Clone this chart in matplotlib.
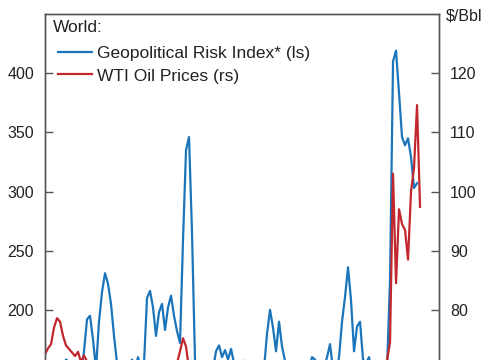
import matplotlib.pyplot as plt
import pandas as pd

plt.rcParams['font.family'] = ['Liberation Sans', 'DejaVu Sans']

# weekly readings, geopolitical risk index (left scale)
gpr = [140, 135, 130, 140, 145, 150, 152, 158, 156, 150,
       145, 140, 145, 165, 192, 195, 175, 150, 190, 215,
       231, 222, 205, 178, 155, 148, 155, 145, 150, 158,
       150, 160, 150, 155, 210, 216, 202, 178, 198, 205,
       183, 202, 212, 195, 182, 172, 259, 335, 346, 265,
       157, 130, 125, 120, 130, 140, 150, 165, 170, 160,
       166, 158, 167, 155, 150, 152, 157, 145, 140, 135,
       140, 135, 145, 150, 180, 200, 185, 165, 190, 169,
       157, 155, 145, 140, 135, 130, 135, 140, 150, 160,
       158, 150, 145, 150, 160, 171, 150, 145, 160, 190,
       211, 236, 208, 165, 186, 190, 158, 155, 160, 145,
       140, 135, 140, 145, 150, 225, 410, 419, 383, 346,
       339, 345, 329, 303, 307]

# WTI oil price, $/bbl (right scale)
wti = [72.5, 73.5, 74.2, 77.0, 78.6, 78.0, 75.6, 74.0, 73.4, 72.8,
       72.2, 72.9, 71.2, 72.3, 71.3, 69.5, 67, 64, 62, 60,
       58, 57, 59, 61, 63, 64, 62, 60, 58, 56,
       55, 57, 60, 62, 63, 64, 65, 66, 65, 64,
       66, 68, 69, 70, 71, 73.0, 75.2, 73.8, 70.0, 66,
       62, 58, 54, 50, 47, 44, 42, 40, 38, 36,
       34, 35, 38, 41, 43, 45, 47, 48, 50, 52,
       54, 56, 58, 60, 62, 63, 64, 65, 66, 67,
       68, 68, 69, 69, 68, 67, 66, 65, 64, 63,
       62, 61, 60, 59, 58, 57, 56, 55, 56, 57,
       58, 59, 60, 61, 62, 63, 64, 65, 66, 67,
       68, 69, 70, 70, 71.5, 74.5, 103.0, 84.5, 97.0, 94.5,
       93.5, 88.5, 100.0, 104.0, 114.6, 97.4]

left_ticks = [200, 250, 300, 350, 400]
right_ticks = [80, 90, 100, 110, 120]

dates = pd.date_range('2018-07-01', periods=len(wti), freq='W')

blue = '#1b75bb'
red = '#c1272d'
dark = '#222222'

fig = plt.figure(figsize=(4.85, 3.6), dpi=100)
# axes run past the bottom edge, as in the cropped reference
ax = fig.add_axes([0.0928, -0.1894, 0.8124, 1.1505])
ax2 = ax.twinx()

l1, = ax.plot(dates[:len(gpr)], gpr, color=blue, lw=1.6, label='Geopolitical Risk Index* (ls)')
l2, = ax2.plot(dates, wti, color=red, lw=1.6, label='WTI Oil Prices (rs)')

ax.set_xlim(dates[0], dates[0] + pd.Timedelta(weeks=131.33))
ax.set_ylim(100, 450)
ax2.set_ylim(60, 130)
ax.set_yticks(left_ticks)
ax2.set_yticks(right_ticks)
ax.set_xticks([])

for a in (ax, ax2):
    for s in a.spines.values():
        s.set_color('#555555')
        s.set_linewidth(1.0)
    a.tick_params(axis='y', direction='in', length=6, width=1, color='#555555',
                  labelsize=11.5, labelcolor=dark, pad=8)

leg = ax2.legend(handles=[l1, l2], loc='upper left',
                 bbox_to_anchor=(0.0152, 0.9396), frameon=False, fontsize=12.5,
                 handlelength=1.95, handletextpad=0.3,
                 labelspacing=0.42, borderaxespad=0.0)
for t in leg.get_texts():
    t.set_color(dark)

fig.text(53 / 485, 1 - 27 / 360, 'World:', fontsize=12.5, color=dark,
         ha='left', va='center')
fig.text(446 / 485, 1 - 16 / 360, '$/Bbl', fontsize=11.5, color=dark,
         ha='left', va='center')

fig.savefig('out.png', dpi=100)
